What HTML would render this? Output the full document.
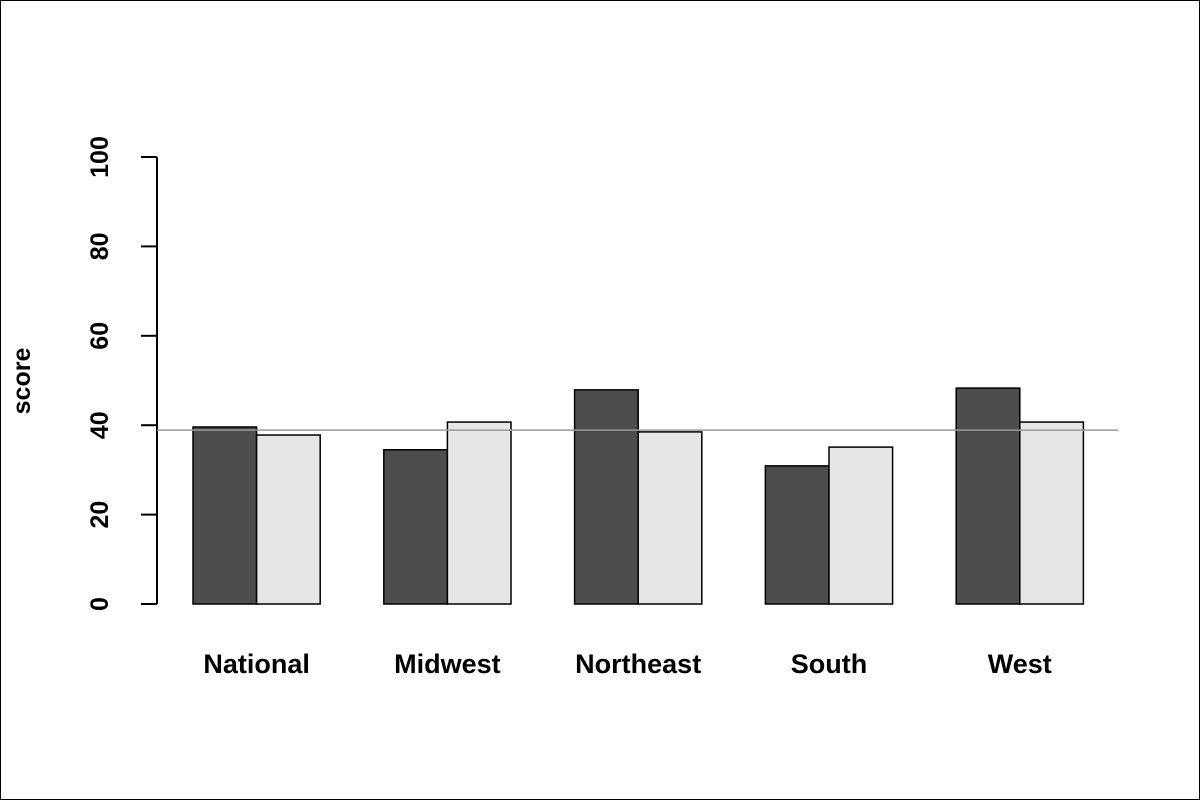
<!DOCTYPE html>
<html><head><meta charset="utf-8"><style>body{margin:0;background:#fff}svg{display:block}</style></head>
<body>
<svg width="1200" height="800" xmlns="http://www.w3.org/2000/svg" font-family="Liberation Sans, Arial, sans-serif" font-weight="bold">
<rect x="0.5" y="0.5" width="1199" height="799" fill="#fff" stroke="#000"/>
<g id="plot"></g>
</svg>
<script>
const categories=["National","Midwest","Northeast","South","West"];
const seriesA=[39.6,34.5,47.9,30.9,48.3];
const seriesB=[37.8,40.7,38.5,35.1,40.7];
const refValue=38.9;
const yTicks=[0,20,40,60,80,100];
const NS="http://www.w3.org/2000/svg";
const g=document.getElementById('plot');
const y=v=>604-v*4.47;
const unit=63.6,x0=193;
function mk(t,a,parent){const e=document.createElementNS(NS,t);for(const k in a)e.setAttribute(k,a[k]);(parent||g).appendChild(e);return e;}
// axis
let ax=mk('line',{x1:157,x2:157,y1:y(0),y2:y(100),stroke:'#000','stroke-width':2});


yTicks.forEach(v=>{
 let t=mk('line',{x1:141,x2:157,y1:y(v),y2:y(v),stroke:'#000','stroke-width':2});
 
 
 let l=mk('text',{x:0,y:0,transform:`translate(108,${y(v)}) rotate(-90)`,'text-anchor':'middle','font-size':25});
 l.textContent=v;
 
 
});
let yt=mk('text',{transform:'translate(30,381) rotate(-90)','text-anchor':'middle','font-size':25});
yt.textContent='score';


categories.forEach((c,i)=>{
 const gx=x0+i*3*unit;
 let a=mk('rect',{x:gx,y:y(seriesA[i]),width:unit,height:y(0)-y(seriesA[i]),fill:'#4d4d4d',stroke:'#000','stroke-width':1.5});
 
 
 let b=mk('rect',{x:gx+unit,y:y(seriesB[i]),width:unit,height:y(0)-y(seriesB[i]),fill:'#e6e6e6',stroke:'#000','stroke-width':1.5});
 
 
 let t=mk('text',{x:gx+unit,y:673,'text-anchor':'middle','font-size':27});
 t.textContent=c;
 
 
});
let r=mk('line',{x1:157,x2:1118,y1:y(refValue),y2:y(refValue),stroke:'#999','stroke-width':1.5});


</script>
</body></html>
